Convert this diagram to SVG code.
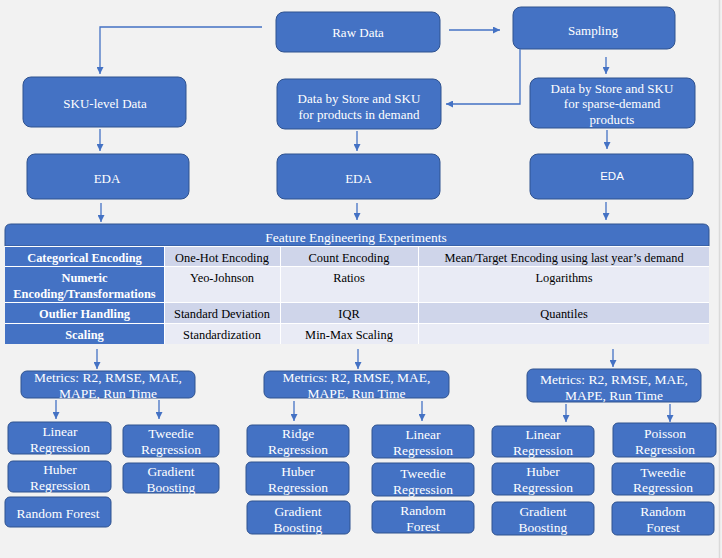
<svg xmlns="http://www.w3.org/2000/svg" width="722" height="558" viewBox="0 0 722 558">
<defs>
<style>
.bx{fill:#4472c4;stroke:#2f528f;stroke-width:1}
.sf{font-family:'Liberation Serif','Times New Roman',Times,'DejaVu Serif',serif}
.t{font-size:13px;fill:#fff;text-anchor:middle}
.tb{font-size:13.5px;fill:#fff;text-anchor:middle}
.ts{font-family:'Liberation Sans',Arial,sans-serif;font-size:11.5px;fill:#fff;text-anchor:middle}
.th{font-size:12.4px;fill:#fff;text-anchor:middle;font-weight:bold}
.td{font-size:12.4px;fill:#000;text-anchor:middle}
.hd{fill:#4472c4}
.c1{fill:#cfd5ea}
.c2{fill:#e9ebf5}
.cn path{fill:none;stroke:#4472c4;stroke-width:1.3;marker-end:url(#ah)}
</style>
<marker id="ah" markerUnits="userSpaceOnUse" markerWidth="7" markerHeight="7" refX="7" refY="3.5" orient="auto">
<path d="M0 0 L7 3.5 L0 7 z" fill="#4472c4"/>
</marker>
</defs>
<rect x="0" y="0" width="722" height="558" fill="#f2f2f2"/>
<line x1="719.5" y1="0" x2="719.5" y2="558" stroke="#dadada" stroke-width="1.5"/>

<g font-family="Liberation Serif, Times New Roman, serif" class="sf">
<g id="raw"><rect class="bx" x="276" y="12" width="164" height="40" rx="8"/><text class="t" x="358" y="36.5">Raw Data</text></g>
<g id="sampling"><rect class="bx" x="513" y="7" width="162" height="42" rx="8"/><text class="t" x="593" y="34.5">Sampling</text></g>
<g id="sku"><rect class="bx" x="23" y="77" width="163" height="50" rx="8"/><text class="t" x="105" y="107.5">SKU-level Data</text></g>
<g id="demand"><rect class="bx" x="277" y="79" width="164" height="50" rx="8"/><text class="t" x="359" y="102.5">Data by Store and SKU</text><text class="t" x="359" y="118.5">for products in demand</text></g>
<g id="sparse"><rect class="bx" x="530" y="78" width="165" height="50" rx="8"/><text class="t" x="612" y="92.5">Data by Store and SKU</text><text class="t" x="612" y="107.5">for sparse-demand</text><text class="t" x="612" y="123.5">products</text></g>
<g id="eda1"><rect class="bx" x="27" y="154" width="162" height="45" rx="8"/><text class="t" x="107" y="182.5">EDA</text></g>
<g id="eda2"><rect class="bx" x="277" y="154" width="163" height="45" rx="8"/><text class="t" x="358.5" y="182.5">EDA</text></g>
<g id="eda3"><rect class="bx" x="530" y="154" width="163" height="45" rx="8"/><text class="ts" x="612" y="180">EDA</text></g>

<g id="table">
<path d="M5 246 V230 Q5 224 11 224 H703 Q709 224 709 230 V246 Z" fill="#4472c4" stroke="#2f528f" stroke-width="1"/>
<text class="t" x="356" y="241.5" style="font-size:13.5px">Feature Engineering Experiments</text>
<rect x="5" y="246" width="704" height="98" fill="#ffffff"/>
<rect class="hd" x="5" y="247" width="159" height="19"/>
<rect class="hd" x="5" y="267" width="159" height="35"/>
<rect class="hd" x="5" y="303" width="159" height="20"/>
<rect class="hd" x="5" y="324" width="159" height="20"/>
<rect class="c1" x="165" y="247" width="115" height="19"/><rect class="c1" x="281" y="247" width="137" height="19"/><rect class="c1" x="419" y="247" width="290" height="19"/>
<rect class="c2" x="165" y="267" width="115" height="35"/><rect class="c2" x="281" y="267" width="137" height="35"/><rect class="c2" x="419" y="267" width="290" height="35"/>
<rect class="c1" x="165" y="303" width="115" height="20"/><rect class="c1" x="281" y="303" width="137" height="20"/><rect class="c1" x="419" y="303" width="290" height="20"/>
<rect class="c2" x="165" y="324" width="115" height="20"/><rect class="c2" x="281" y="324" width="137" height="20"/><rect class="c2" x="419" y="324" width="290" height="20"/>
<text class="th" x="84.5" y="261.5">Categorical Encoding</text>
<text class="th" x="84.5" y="282">Numeric</text>
<text class="th" x="84.5" y="298">Encoding/Transformations</text>
<text class="th" x="84.5" y="317.5">Outlier Handling</text>
<text class="th" x="84.5" y="338.5">Scaling</text>
<text class="td" x="222" y="261.5">One-Hot Encoding</text>
<text class="td" x="349" y="261.5">Count Encoding</text>
<text class="td" x="564" y="261.5">Mean/Target Encoding using last year’s demand</text>
<text class="td" x="222" y="282">Yeo-Johnson</text>
<text class="td" x="349" y="282">Ratios</text>
<text class="td" x="564" y="282">Logarithms</text>
<text class="td" x="222" y="317.5">Standard Deviation</text>
<text class="td" x="349" y="317.5">IQR</text>
<text class="td" x="564" y="317.5">Quantiles</text>
<text class="td" x="222" y="338.5">Standardization</text>
<text class="td" x="349" y="338.5">Min-Max Scaling</text>
</g>

<g id="metrics1"><rect class="bx" x="21" y="371" width="174" height="27" rx="6"/><text class="tb" x="108" y="381.5">Metrics: R2, RMSE, MAE,</text><text class="tb" x="108" y="397.5">MAPE, Run Time</text></g>
<g id="metrics2"><rect class="bx" x="264" y="371" width="185" height="27" rx="6"/><text class="tb" x="356.5" y="381.5">Metrics: R2, RMSE, MAE,</text><text class="tb" x="356.5" y="397.5">MAPE, Run Time</text></g>
<g id="metrics3"><rect class="bx" x="527" y="369" width="174" height="33" rx="6"/><text class="tb" x="614" y="383.5">Metrics: R2, RMSE, MAE,</text><text class="tb" x="614" y="399.5">MAPE, Run Time</text></g>

<g id="l-linear"><rect class="bx" x="8" y="422" width="103" height="32" rx="5"/><text class="tb" x="60" y="435.5">Linear</text><text class="tb" x="60" y="451.5">Regression</text></g>
<g id="l-huber"><rect class="bx" x="8" y="461" width="103" height="31" rx="5"/><text class="tb" x="60" y="473.5">Huber</text><text class="tb" x="60" y="489.5">Regression</text></g>
<g id="l-rf"><rect class="bx" x="5" y="497" width="106" height="30" rx="5"/><text class="tb" x="58" y="517.5">Random Forest</text></g>
<g id="l-tweedie"><rect class="bx" x="123" y="425" width="96" height="32" rx="5"/><text class="tb" x="171" y="437.5">Tweedie</text><text class="tb" x="171" y="453.5">Regression</text></g>
<g id="l-gb"><rect class="bx" x="123" y="463" width="96" height="30" rx="5"/><text class="tb" x="171" y="475.5">Gradient</text><text class="tb" x="171" y="491.5">Boosting</text></g>

<g id="m-ridge"><rect class="bx" x="247" y="425" width="102" height="32" rx="5"/><text class="tb" x="298" y="437.5">Ridge</text><text class="tb" x="298" y="453.5">Regression</text></g>
<g id="m-huber"><rect class="bx" x="246" y="462" width="103" height="33" rx="5"/><text class="tb" x="298" y="475.5">Huber</text><text class="tb" x="298" y="491.5">Regression</text></g>
<g id="m-gb"><rect class="bx" x="247" y="501" width="103" height="33" rx="5"/><text class="tb" x="298" y="515.5">Gradient</text><text class="tb" x="298" y="531.5">Boosting</text></g>
<g id="m-linear"><rect class="bx" x="372" y="425" width="102" height="33" rx="5"/><text class="tb" x="423" y="438.5">Linear</text><text class="tb" x="423" y="454.5">Regression</text></g>
<g id="m-tweedie"><rect class="bx" x="372" y="463" width="102" height="33" rx="5"/><text class="tb" x="423" y="477.5">Tweedie</text><text class="tb" x="423" y="493.5">Regression</text></g>
<g id="m-rf"><rect class="bx" x="372" y="501" width="102" height="32" rx="5"/><text class="tb" x="423" y="514.5">Random</text><text class="tb" x="423" y="530.5">Forest</text></g>

<g id="r-linear"><rect class="bx" x="492" y="426" width="102" height="31" rx="5"/><text class="tb" x="543" y="438.5">Linear</text><text class="tb" x="543" y="454.5">Regression</text></g>
<g id="r-huber"><rect class="bx" x="492" y="463" width="102" height="32" rx="5"/><text class="tb" x="543" y="475.5">Huber</text><text class="tb" x="543" y="491.5">Regression</text></g>
<g id="r-gb"><rect class="bx" x="492" y="502" width="102" height="33" rx="5"/><text class="tb" x="543" y="515.5">Gradient</text><text class="tb" x="543" y="531.5">Boosting</text></g>
<g id="r-poisson"><rect class="bx" x="613" y="423" width="103" height="34" rx="5"/><text class="tb" x="665" y="437.5">Poisson</text><text class="tb" x="665" y="453.5">Regression</text></g>
<g id="r-tweedie"><rect class="bx" x="612" y="463" width="102" height="32" rx="5"/><text class="tb" x="663" y="476.5">Tweedie</text><text class="tb" x="663" y="491.5">Regression</text></g>
<g id="r-rf"><rect class="bx" x="612" y="502" width="102" height="33" rx="5"/><text class="tb" x="663" y="515.5">Random</text><text class="tb" x="663" y="531.5">Forest</text></g>
</g>

<g id="connectors" class="cn">
<path d="M262 27 H100 V74"/>
<path d="M449 30 H500"/>
<path d="M520 49 V104 H446"/>
<path d="M606 57 V74"/>
<path d="M100 129 V151"/>
<path d="M357 131 V151"/>
<path d="M607 130 V149"/>
<path d="M101 203 V222"/>
<path d="M357 203 V220"/>
<path d="M606 202 V220"/>
<path d="M97 349 V369"/>
<path d="M358 349 V369"/>
<path d="M613 349 V367"/>
<path d="M56 400 V419"/>
<path d="M159 400 V419"/>
<path d="M294 401 V421"/>
<path d="M422 401 V421"/>
<path d="M566 404 V422"/>
<path d="M670 404 V422"/>
</g>
</svg>
